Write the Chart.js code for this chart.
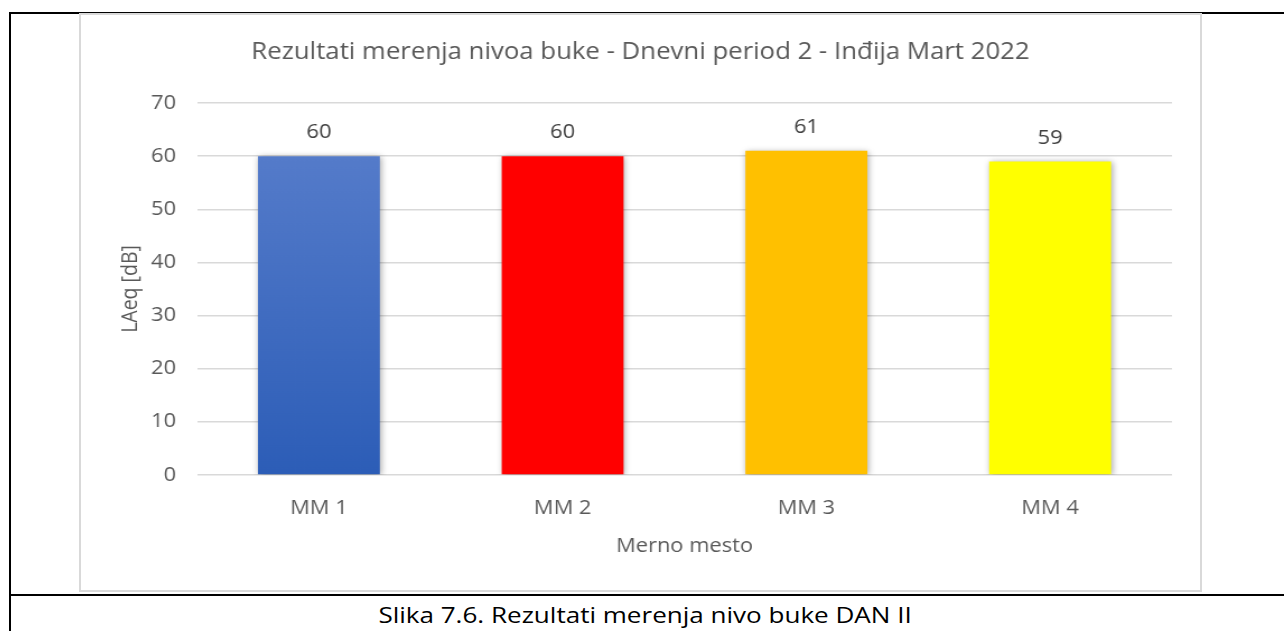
<!DOCTYPE html>
<html>
<head>
<meta charset="utf-8">
<script src="https://cdn.jsdelivr.net/npm/chart.js@4.4.1/dist/chart.umd.min.js"></script>
<style>
  html, body { margin: 0; padding: 0; background: #ffffff; }
  body { width: 1284px; height: 631px; position: relative; overflow: hidden; font-family: "Open Sans", Lato, sans-serif; }
  .rule { position: absolute; background: #000000; }
  #frame { position: absolute; left: 79px; top: 13px; width: 1119px; height: 575px; border: 2px solid #d9d9d9; background: #ffffff; overflow: hidden; }
  /* the chart is laid out on a narrower canvas and widened to fill the frame */
  #stretch { width: 999px; height: 575px; transform: scaleX(1.1201); transform-origin: 0 0; }
  #chart { display: block; }
  #caption { position: absolute; left: 0; width: 1290px; top: 601px; font-size: 21px; line-height: 28px; color: #000000; text-align: center; white-space: nowrap; }
  #caption span { display: inline-block; transform: scaleX(1.24); transform-origin: center; }
</style>
</head>
<body>
<div class="rule" style="left:9px; top:12px; width:1275px; height:2px;"></div>
<div class="rule" style="left:9px; top:12px; width:2px; height:619px;"></div>
<div class="rule" style="left:9px; top:594px; width:1275px; height:2px;"></div>
<div id="frame"><div id="stretch"><canvas id="chart" width="999" height="575" style="width:999px;height:575px;"></canvas></div></div>
<div id="caption"><span>Slika 7.6. Rezultati merenja nivo buke DAN II</span></div>
<script>
// Measurement points and their LAeq levels
const categories = ['MM 1', 'MM 2', 'MM 3', 'MM 4'];
const levels = [60, 60, 61, 59];
const barColors = ['#4a72c4', '#ff0000', '#ffc000', '#ffff00'];
const yTicks = [0, 10, 20, 30, 40, 50, 60, 70];

const chartTitle = 'Rezultati merenja nivoa buke - Dnevni period 2 - Inđija Mart 2022';
const xTitle = 'Merno mesto';
const yTitle = 'LAeq [dB]';

const textGray = '#595959';
const gridGray = '#d9d9d9';
const fontFamily = '"Open Sans", Lato, sans-serif';

// First bar uses a vertical blue gradient
function barFill(ctx) {
  const i = ctx.dataIndex;
  if (i !== 0) return barColors[i];
  const area = ctx.chart.chartArea;
  if (!area) return barColors[0];
  const g = ctx.chart.ctx.createLinearGradient(0, area.top, 0, area.bottom);
  g.addColorStop(0, '#5b80cd');
  g.addColorStop(1, '#2c5db7');
  return g;
}

// Soft shadow around the bars
const barShadow = {
  id: 'barShadow',
  beforeDatasetsDraw(chart) {
    const c = chart.ctx;
    c.save();
    c.shadowColor = 'rgba(0,0,0,0.35)';
    c.shadowBlur = 6;
    c.shadowOffsetX = 1;
    c.shadowOffsetY = 1;
  },
  afterDatasetsDraw(chart) {
    chart.ctx.restore();
  }
};

// Value labels above each bar
const valueLabels = {
  id: 'valueLabels',
  afterDatasetsDraw(chart) {
    const c = chart.ctx;
    const meta = chart.getDatasetMeta(0);
    c.save();
    c.font = '19.5px ' + fontFamily;
    c.fillStyle = '#404040';
    c.textAlign = 'center';
    c.textBaseline = 'middle';
    meta.data.forEach((bar, i) => {
      c.fillText(String(chart.data.datasets[0].data[i]), bar.x, bar.y - 23.5);
    });
    c.restore();
  }
};

new Chart(document.getElementById('chart'), {
  type: 'bar',
  data: {
    labels: categories,
    datasets: [{
      data: levels,
      backgroundColor: barFill,
      borderWidth: 0,
      barPercentage: 0.5,
      categoryPercentage: 1.0
    }]
  },
  options: {
    responsive: false,
    animation: false,
    events: [],
    layout: { padding: { left: 25, right: 25, top: 0, bottom: 0 } },
    plugins: {
      legend: { display: false },
      tooltip: { enabled: false },
      title: {
        display: true,
        text: chartTitle,
        color: textGray,
        font: { family: fontFamily, size: 23, weight: 'normal' },
        padding: { top: 24, bottom: 36.4 }
      }
    },
    scales: {
      x: {
        grid: { display: false, drawTicks: false },
        border: { display: false },
        ticks: { color: textGray, font: { family: fontFamily, size: 19.5 }, padding: 22 },
        title: {
          display: true,
          text: xTitle,
          color: textGray,
          font: { family: fontFamily, size: 19.5 },
          padding: { top: 0, bottom: 32 }
        },
        afterFit(scale) { scale.height = 115; }
      },
      y: {
        min: 0,
        max: 70,
        afterBuildTicks(scale) { scale.ticks = yTicks.map(v => ({ value: v })); },
        grid: { color: gridGray, lineWidth: 1.5, drawTicks: false },
        border: { display: false },
        ticks: { color: textGray, font: { family: fontFamily, size: 19.5 }, padding: 18.8 },
        title: {
          display: true,
          text: yTitle,
          color: textGray,
          font: { family: fontFamily, size: 19.5 },
          padding: { top: 8, bottom: 0 }
        },
        afterFit(scale) { scale.width = 78.6; }
      }
    }
  },
  plugins: [barShadow, valueLabels]
});
</script>
</body>
</html>
